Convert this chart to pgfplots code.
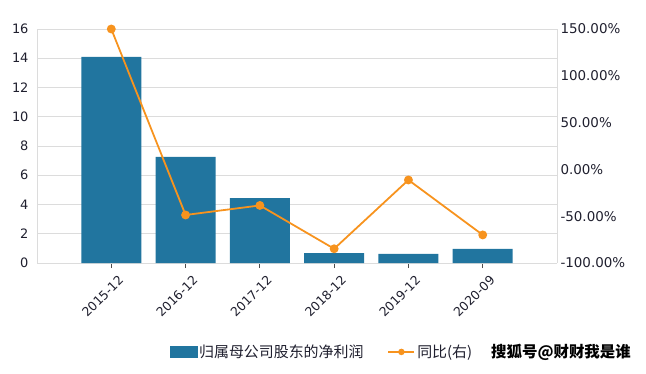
\documentclass[border=0pt]{standalone}
\usepackage{pgfplots}
\pgfplotsset{compat=1.18}
\usepackage{fontspec}
\setmainfont{DejaVu Sans}
\newfontfamily\cjk{Noto Sans CJK SC}
\definecolor{barc}{HTML}{21759F}
\definecolor{linec}{HTML}{F7931E}
\definecolor{gridc}{HTML}{DCDCDC}
\definecolor{txt}{HTML}{1F1F2E}
\begin{document}
\begin{tikzpicture}[x=1bp,y=1bp]
\path (0,0) rectangle (646,373);
\begin{axis}[at={(37bp,110bp)}, anchor=south west, scale only axis,
  width=520bp, height=234bp,
  xmin=-1, xmax=6, ymin=0, ymax=16, ytick={0,2,...,16},
  xtick={0,...,5},
  xticklabels={2015-12,2016-12,2017-12,2018-12,2019-12,2020-09},
  x tick label style={rotate=45, anchor=north east, font=\fontsize{12.5}{13}\selectfont, text=txt, inner sep=1bp, xshift=1bp, yshift=-8bp},
  y tick label style={font=\fontsize{13}{14}\selectfont, text=txt},
  ymajorgrids, grid style={gridc, line width=0.8pt},
  axis x line*=bottom, axis y line*=left,
  axis line style={gridc, line width=0.8pt, -},
  tick align=outside, major tick length=5bp,
  xtick style={black!70, line width=0.8pt}, ytick style={draw=none},
  /pgf/number format/assume math mode=true,
  clip=false]
\addplot[ybar, bar width=60bp, fill=barc, draw=none] coordinates {
 (0,14.1) (1,7.25) (2,4.44) (3,0.68) (4,0.62) (5,0.96)};
\end{axis}
\begin{axis}[at={(37bp,110bp)}, anchor=south west, scale only axis,
  width=520bp, height=234bp,
  xmin=-1, xmax=6, ymin=-100, ymax=150,
  ytick={-100,-50,0,50,100,150},
  yticklabels={-100.00\%,-50.00\%,0.00\%,50.00\%,100.00\%,150.00\%},
  y tick label style={font=\fontsize{13.5}{14}\selectfont, text=txt, anchor=west},
  axis y line*=right, axis x line=none,
  axis line style={gridc, line width=0.8pt, -},
  ytick style={draw=none},
  legend columns=2,
  legend style={at={(0.548,-0.38)}, anchor=center, draw=none, fill=none,
    font=\cjk\fontsize{15}{16}\selectfont, text=txt,
    /tikz/every even column/.append style={column sep=22bp}},
  legend image code/.code={},
  clip=false]
\addlegendimage{legend image code/.code={\fill[barc] (-4bp,-5.5bp) rectangle (23bp,5.5bp);}}
\addlegendentry{归属母公司股东的净利润}
\addplot[linec, line width=1.8pt, mark=*, mark size=3.5bp, mark options={fill=linec, draw=linec},
  legend image code/.code={\draw[linec, line width=1.8pt] (-6bp,0bp) -- (20bp,0bp);
  \fill[linec] (7bp,0bp) circle (2.3bp);}] coordinates {
 (0,150) (1,-48.7) (2,-38.5) (3,-84.8) (4,-11.3) (5,-70)};
\addlegendentry{同比(右)}
\end{axis}
\node[anchor=west, inner sep=0pt, font=\cjk\bfseries\fontsize{15.5}{16}\selectfont, text=black] at (491,21) {搜狐号@财财我是谁};
\end{tikzpicture}
\end{document}
